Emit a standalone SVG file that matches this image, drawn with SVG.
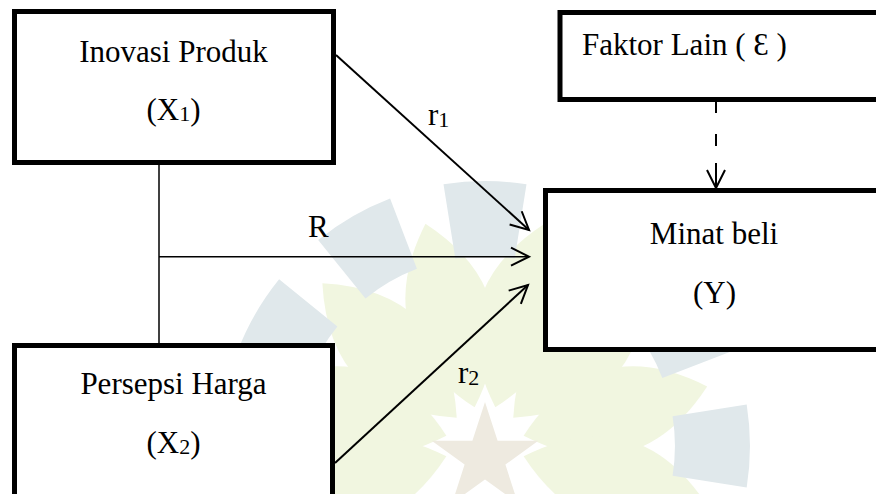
<svg xmlns="http://www.w3.org/2000/svg" width="876" height="494" viewBox="0 0 876 494">
  <style>
    .box { fill: #ffffff; stroke: #000000; stroke-width: 5; }
    .lbl { font-family: 'Times New Roman', Times, 'Liberation Serif', Tinos, 'Noto Serif', 'DejaVu Serif', serif; font-size: 31px; fill: #000000; }
    .mid { text-anchor: middle; }
    .sub { font-size: 22px; }
    .con { fill: none; stroke: #000000; stroke-width: 2; }
    .thin { stroke-width: 1.5; }
    .wm-block { fill: #e0e8eb; }
    .wm-petal { fill: #f1f6e0; }
    .wm-star { fill: #eeeae0; }
  </style>
  <defs>
    <marker id="arrow" markerUnits="userSpaceOnUse" viewBox="-22 -12 24 24" refX="0" refY="0" markerWidth="24" markerHeight="24" orient="auto" overflow="visible">
      <path d="M-18,-9 L0,0 L-18,9" fill="none" stroke="#000000" stroke-width="2" stroke-dasharray="none"/>
    </marker>
    <path id="petal" d="M40,0 Q135,-85 230,0 Q135,85 40,0 Z"/>
    <path id="block" d="M187.6,-29.7 L261.7,-41.5 A265,265 0 0 1 261.7,41.5 L187.6,29.7 A190,190 0 0 0 187.6,-29.7 Z"/>
  </defs>
  <rect width="876" height="494" fill="#ffffff"/>

  <g id="watermark" transform="translate(485 446)">
    <use href="#petal" class="wm-petal" transform="rotate(-165)"/>
    <use href="#petal" class="wm-petal" transform="rotate(-135)"/>
    <use href="#petal" class="wm-petal" transform="rotate(-105)"/>
    <use href="#petal" class="wm-petal" transform="rotate(-75)"/>
    <use href="#petal" class="wm-petal" transform="rotate(-45)"/>
    <use href="#petal" class="wm-petal" transform="rotate(-15)"/>
    <use href="#petal" class="wm-petal" transform="rotate(15)"/>
    <use href="#petal" class="wm-petal" transform="rotate(165)"/>
    <use href="#block" class="wm-block" transform="rotate(-150)"/>
    <use href="#block" class="wm-block" transform="rotate(-120)"/>
    <use href="#block" class="wm-block" transform="rotate(-90)"/>
    <use href="#block" class="wm-block" transform="rotate(-60)"/>
    <use href="#block" class="wm-block" transform="rotate(-30)"/>
    <use href="#block" class="wm-block" transform="rotate(0)"/>
  </g>
  <path class="wm-star" d="M485,402 L497.6,440.7 L538.3,440.7 L505.4,464.6 L517.9,503.3 L485,479.4 L452.1,503.3 L464.6,464.6 L431.7,440.7 L472.4,440.7 Z"/>

  <g id="node-x1">
    <rect class="box" x="14.5" y="11.5" width="319" height="151"/>
    <text class="lbl mid" x="173.5" y="62">Inovasi Produk</text>
    <text class="lbl mid" x="173.5" y="119.5">(X<tspan class="sub" dy="1">1</tspan><tspan dy="-1">)</tspan></text>
  </g>

  <g id="node-x2">
    <rect class="box" x="14.5" y="345.5" width="318" height="180"/>
    <text class="lbl mid" x="173.5" y="394">Persepsi Harga</text>
    <text class="lbl mid" x="173.5" y="453">(X<tspan class="sub" dy="1">2</tspan><tspan dy="-1">)</tspan></text>
  </g>

  <g id="node-e">
    <rect class="box" x="560" y="12.5" width="360" height="87"/>
    <text class="lbl" x="582" y="55">Faktor Lain ( Ɛ )</text>
  </g>

  <g id="node-y">
    <rect class="box" x="545.5" y="190.5" width="380" height="159"/>
    <text class="lbl mid" x="714" y="244">Minat beli</text>
    <text class="lbl mid" x="714.5" y="303">(Y)</text>
  </g>

  <g id="connectors">
    <path class="con thin" d="M159,164 V343.5"/>
    <path class="con thin" d="M159,256.7 H529" marker-end="url(#arrow)"/>
    <path class="con" d="M336,55 L529,230" marker-end="url(#arrow)"/>
    <path class="con" d="M335,463 L528,285" marker-end="url(#arrow)"/>
    <path class="con" d="M716,102 V113 M716,134 V146 M716,163 V188" marker-end="url(#arrow)"/>
  </g>

  <g id="labels">
    <text class="lbl" x="308" y="237">R</text>
    <text class="lbl" x="428" y="125">r<tspan class="sub" dy="1.5">1</tspan></text>
    <text class="lbl" x="458" y="383">r<tspan class="sub" dy="1.5">2</tspan></text>
  </g>
</svg>
